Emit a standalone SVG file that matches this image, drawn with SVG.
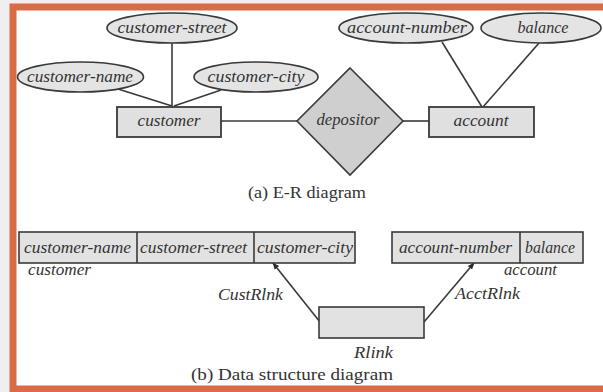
<svg xmlns="http://www.w3.org/2000/svg" width="603" height="392" viewBox="0 0 603 392">
<style>
.attr{fill:#e4e4e4;stroke:#3a3a3a;stroke-width:1.6}
.ent{fill:#e0e0e0;stroke:#3a3a3a;stroke-width:1.8}
.rel{fill:#cfcfcf;stroke:#3a3a3a;stroke-width:1.6}
.rec{fill:#e2e2e2;stroke:#3a3a3a;stroke-width:1.6}
.ln{stroke:#3a3a3a;stroke-width:1.6;fill:none}
text{font-family:"Liberation Serif","Times New Roman",serif;font-size:17px;fill:#333}
.it{font-style:italic;text-anchor:middle}
.itl{font-style:italic}
.cap{text-anchor:middle}
</style>
<defs>
<marker id="arr" viewBox="0 0 10 10" refX="9" refY="5" markerWidth="7" markerHeight="7" orient="auto" markerUnits="userSpaceOnUse">
<path d="M0,1 L10,5 L0,9 z" fill="#2a2a2a"/>
</marker>
</defs>
<rect x="0" y="0" width="603" height="392" fill="#efefef"/>
<rect x="13" y="7" width="600" height="382" fill="#ffffff" stroke="#db6a48" stroke-width="7"/>

<g id="connectors">
<line class="ln" x1="172" y1="43" x2="172" y2="107"/>
<line class="ln" x1="118" y1="89" x2="172" y2="106"/>
<line class="ln" x1="221" y1="90" x2="174" y2="106"/>
<line class="ln" x1="221" y1="121" x2="297" y2="121"/>
<line class="ln" x1="403" y1="121" x2="429" y2="121"/>
<line class="ln" x1="442" y1="42" x2="482" y2="107"/>
<line class="ln" x1="539" y1="43" x2="483" y2="107"/>
<line class="ln" x1="320" y1="322" x2="273" y2="263" marker-end="url(#arr)"/>
<line class="ln" x1="424" y1="322" x2="474" y2="263" marker-end="url(#arr)"/>
</g>

<g id="customer-street"><ellipse class="attr" cx="172" cy="28" rx="65" ry="15"/><text class="it" x="172" y="33" textLength="109" lengthAdjust="spacingAndGlyphs">customer-street</text></g>
<g id="customer-name"><ellipse class="attr" cx="80.5" cy="77" rx="63" ry="15"/><text class="it" x="80" y="82" textLength="106" lengthAdjust="spacingAndGlyphs">customer-name</text></g>
<g id="customer-city"><ellipse class="attr" cx="256" cy="77" rx="62" ry="15"/><text class="it" x="256" y="82" textLength="97" lengthAdjust="spacingAndGlyphs">customer-city</text></g>
<g id="customer"><rect class="ent" x="117" y="107" width="104" height="30"/><text class="it" x="169" y="126" textLength="63" lengthAdjust="spacingAndGlyphs">customer</text></g>
<g id="depositor"><polygon class="rel" points="350,68 403,121 350,175 297,121"/><text class="it" x="348" y="125" textLength="63" lengthAdjust="spacingAndGlyphs">depositor</text></g>
<g id="account"><rect class="ent" x="429" y="107" width="105" height="30"/><text class="it" x="481" y="126" textLength="55" lengthAdjust="spacingAndGlyphs">account</text></g>
<g id="account-number"><ellipse class="attr" cx="406" cy="28" rx="67" ry="15"/><text class="it" x="407" y="33" textLength="120" lengthAdjust="spacingAndGlyphs">account-number</text></g>
<g id="balance"><ellipse class="attr" cx="541" cy="28" rx="60" ry="15"/><text class="it" x="543" y="33" textLength="51" lengthAdjust="spacingAndGlyphs">balance</text></g>
<text class="cap" x="307" y="198" textLength="118" lengthAdjust="spacingAndGlyphs">(a) E-R diagram</text>

<g id="customer-record">
<rect class="rec" x="19" y="232" width="336" height="31"/>
<line class="ln" x1="137" y1="232" x2="137" y2="263"/>
<line class="ln" x1="254" y1="232" x2="254" y2="263"/>
<text class="it" x="77.5" y="253" textLength="107" lengthAdjust="spacingAndGlyphs">customer-name</text>
<text class="it" x="193.5" y="253" textLength="107" lengthAdjust="spacingAndGlyphs">customer-street</text>
<text class="it" x="305" y="253" textLength="96" lengthAdjust="spacingAndGlyphs">customer-city</text>
<text class="itl" x="28" y="275" textLength="63" lengthAdjust="spacingAndGlyphs">customer</text>
</g>
<g id="account-record">
<rect class="rec" x="392" y="232" width="191" height="31"/>
<line class="ln" x1="520" y1="232" x2="520" y2="263"/>
<text class="it" x="455.5" y="253" textLength="113" lengthAdjust="spacingAndGlyphs">account-number</text>
<text class="it" x="550" y="253" textLength="50" lengthAdjust="spacingAndGlyphs">balance</text>
<text class="itl" x="504" y="275" textLength="53" lengthAdjust="spacingAndGlyphs">account</text>
</g>
<g id="rlink">
<rect class="rec" x="319" y="307" width="105" height="31"/>
<text class="itl" x="354" y="358" textLength="39" lengthAdjust="spacingAndGlyphs">Rlink</text>
</g>
<text class="itl" x="218" y="300" textLength="65" lengthAdjust="spacingAndGlyphs">CustRlnk</text>
<text class="itl" x="455" y="299" textLength="65" lengthAdjust="spacingAndGlyphs">AcctRlnk</text>
<text class="cap" x="292" y="380" textLength="202" lengthAdjust="spacingAndGlyphs">(b) Data structure diagram</text>
</svg>
